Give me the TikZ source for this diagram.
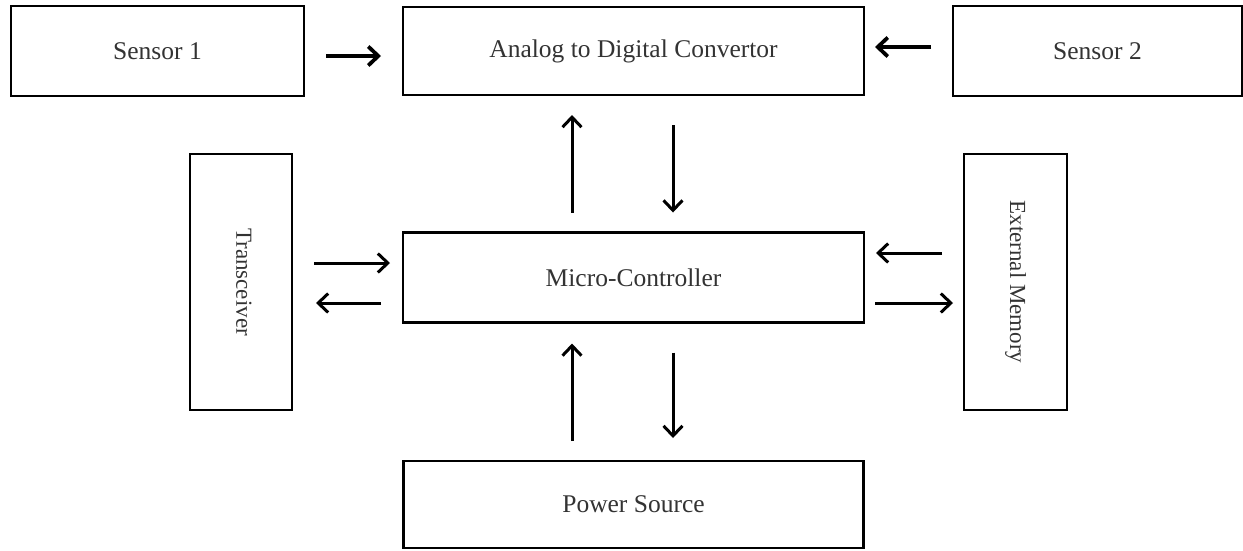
\documentclass[tikz,border=0pt]{standalone}
\usepackage{fontspec}
\setmainfont{Liberation Serif}
\usetikzlibrary{arrows.meta}
\begin{document}
\begin{tikzpicture}[x=1pt,y=-1pt,
  blk/.style={draw=black, line width=2.8pt, inner sep=0pt, outer sep=0pt,
    text=black!80, font=\fontsize{25.5}{30}\selectfont},
  vblk/.style={blk, font=\fontsize{23}{28}\selectfont},
  arr/.style={line width=3pt, -{Straight Barb[length=10pt,width=19pt,line width=3pt]}},
  tarr/.style={line width=3.8pt, -{Straight Barb[length=10pt,width=19pt,line width=3.8pt]}}
]
\useasboundingbox (0,0) rectangle (1243,550);
\node[blk, minimum width=293pt, minimum height=90pt] (s1) at (157.5,51) {Sensor 1};
\node[blk, minimum width=461pt, minimum height=88pt] (adc) at (633.5,51) {Analog to Digital Convertor};
\node[blk, minimum width=289pt, minimum height=90pt] (s2) at (1097.5,51) {Sensor 2};
\node[vblk, minimum width=256pt, minimum height=102pt, rotate=-90] (trx) at (241,282) {\raisebox{6pt}{Transceiver}};
\node[blk, minimum width=461pt, minimum height=90pt] (mc) at (633.5,277.5) {Micro-Controller};
\node[vblk, minimum width=256pt, minimum height=103pt, rotate=-90] (em) at (1015.5,282) {\raisebox{-9pt}{External Memory}};
\node[blk, minimum width=460pt, minimum height=87pt] (ps) at (633.5,504.5) {Power Source};

% top row
\draw[tarr, shorten <=22pt, shorten >=22pt] (s1.north east |- 0,56) -- (adc.north west |- 0,56);
\draw[tarr, shorten <=22pt, shorten >=11pt] (s2.north west |- 0,47) -- (adc.north east |- 0,47);
% ADC <-> MC
\draw[arr, shorten <=20pt, shorten >=20pt] (mc.north west -| 572,0) -- (adc.south west -| 572,0);
\draw[arr, shorten <=30pt, shorten >=20pt] (adc.south west -| 673,0) -- (mc.north west -| 673,0);
% Transceiver <-> MC
\draw[arr, shorten <=22pt, shorten >=13pt] (trx.north |- 0,263) -- (mc.west |- 0,263);
\draw[arr, shorten <=22pt, shorten >=24pt] (mc.west |- 0,303) -- (trx.north |- 0,303);
% External memory <-> MC
\draw[arr, shorten <=22pt, shorten >=12pt] (em.south |- 0,253) -- (mc.east |- 0,253);
\draw[arr, shorten <=11pt, shorten >=11pt] (mc.east |- 0,303) -- (em.south |- 0,303);
% MC <-> Power
\draw[arr, shorten <=20pt, shorten >=21pt] (ps.north west -| 572,0) -- (mc.south west -| 572,0);
\draw[arr, shorten <=30pt, shorten >=23pt] (mc.south west -| 673,0) -- (ps.north west -| 673,0);
\end{tikzpicture}
\end{document}
